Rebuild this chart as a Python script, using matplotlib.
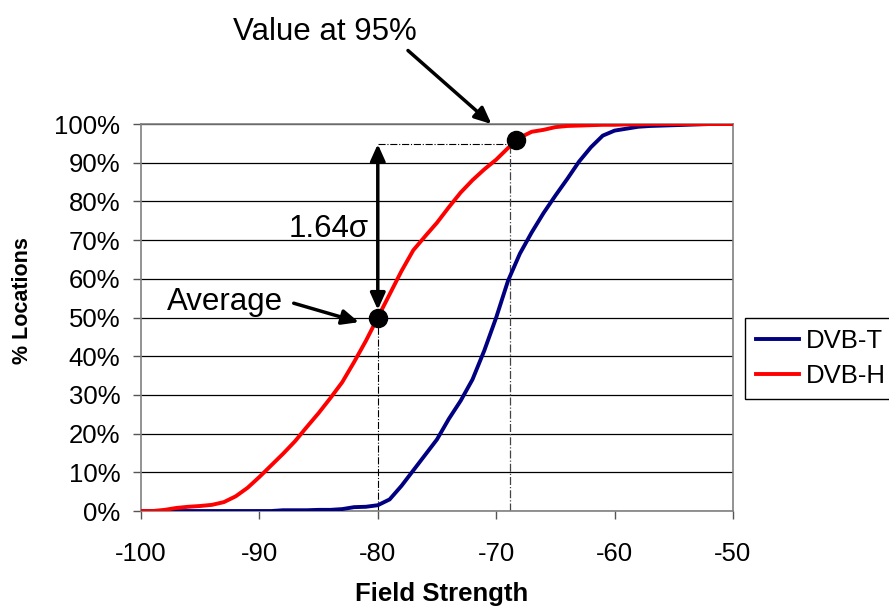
import matplotlib
matplotlib.use("Agg")
import matplotlib.pyplot as plt
from matplotlib.ticker import MultipleLocator, FuncFormatter

plt.rcParams['font.family'] = ['Liberation Sans', 'DejaVu Sans']
plt.rcParams['axes.unicode_minus'] = False

field_strength = list(range(-100, -49))
dvb_t = [0, 0, 0, 0, 0, 0, 0, 0, 0, 0, 0, 0,
         0.2, 0.2, 0.2, 0.3, 0.3, 0.5, 1.0, 1.1, 1.5, 3.0, 6.5, 10.5, 14.5, 18.5,
         23.8, 28.5, 34.0, 41.5, 50.0, 59.5, 66.5, 72.0, 77.0, 81.5, 85.8, 90.3,
         94.0, 97.0, 98.3, 98.8, 99.3, 99.5, 99.6, 99.7, 99.8, 99.9, 100, 100, 100]
dvb_h = [0, 0, 0.3, 0.8, 1.1, 1.3, 1.6, 2.3, 3.8, 6.0, 8.8, 11.8, 14.8, 18.0,
         21.7, 25.3, 29.2, 33.3, 38.5, 44.0, 50.0, 56.0, 62.0, 67.4, 71.0, 74.5,
         78.5, 82.3, 85.5, 88.3, 90.8, 93.8, 96.5, 98.0, 98.5, 99.2, 99.5, 99.6,
         99.7, 99.8, 99.8, 99.9, 99.9, 100, 100, 100, 100, 100, 100, 100, 100]

avg_x, avg_y = -80, 50
p95_x, p95_y = -68.3, 96
p95_level = 94.8
p95_line_x = -68.8

fig = plt.figure(figsize=(8.89, 6.08), dpi=100)
ax = fig.add_axes([0.1586, 0.1595, 0.6659, 0.6365])

ax.plot(field_strength, dvb_t, color='#000080', lw=2.8, label='DVB-T', zorder=3)
ax.plot(field_strength, dvb_h, color='#FF0000', lw=2.8, label='DVB-H', zorder=3)

ax.set_xlim(-100, -50)
ax.set_ylim(0, 100)
ax.xaxis.set_major_locator(MultipleLocator(10))
ax.yaxis.set_major_locator(MultipleLocator(10))
ax.yaxis.set_major_formatter(FuncFormatter(lambda v, p: f"{int(round(v))}%"))
ax.grid(axis='y', color='black', lw=0.9)
ax.set_axisbelow(True)
for s in ax.spines.values():
    s.set_color('#808080')
    s.set_linewidth(1.2)
ax.tick_params(axis='both', labelsize=18.5, color='#555555', length=6, width=1.0)
ax.tick_params(axis='y', pad=9)
ax.tick_params(axis='x', pad=16)

fig.text(442 / 889, 1 - 601 / 608, 'Field Strength', fontsize=18.5, fontweight='bold',
         ha='center', va='baseline')
fig.text(23 / 889, 1 - 301 / 608, '% Locations', fontsize=15.5, fontweight='bold',
         ha='center', va='center', rotation=90)

# dash-dot guide lines
ax.plot([avg_x, avg_x], [0, avg_y], color='black', lw=0.8, ls='-.', zorder=2)
ax.plot([p95_line_x, p95_line_x], [0, p95_level], color='#444444', lw=0.9, ls='-.', zorder=2)
ax.plot([avg_x, p95_line_x], [p95_level, p95_level], color='black', lw=0.8, ls='-.', zorder=2)

# dots
ax.plot([avg_x], [avg_y], 'o', color='black', ms=13, zorder=5)
ax.plot([p95_x], [p95_y], 'o', color='black', ms=13, zorder=5)

arrow_style = '-|>,head_length=1.0,head_width=0.45'

# double arrow
ax.annotate('', xy=(avg_x, 52), xytext=(avg_x, p95_level),
            arrowprops=dict(arrowstyle='<|-|>,head_length=1.0,head_width=0.45',
                            color='black', lw=2.5, shrinkA=0, shrinkB=0), zorder=6)
ax.text(-87.5, 70.8, '1.64σ', fontsize=22.5, ha='left', va='baseline')

# Average
ax.text(-97.8, 51.9, 'Average', fontsize=22.5, ha='left', va='baseline')
ax.annotate('', xy=(-81.6, 48.8), xytext=(-87.1, 53.7),
            arrowprops=dict(arrowstyle=arrow_style, color='black', lw=2.5,
                            shrinkA=0, shrinkB=0))

# Value at 95%
ax.text(-92.2, 121.6, 'Value at 95%', fontsize=22.5, ha='left', va='baseline', clip_on=False)
ax.annotate('', xy=(-70.4, 100), xytext=(-77.45, 119), annotation_clip=False,
            arrowprops=dict(arrowstyle=arrow_style, color='black', lw=2.5,
                            shrinkA=0, shrinkB=0))

leg = fig.legend(loc='upper left', bbox_to_anchor=(745 / 889, 1 - 318 / 608), fontsize=18.5,
                 frameon=True, fancybox=False, edgecolor='black', framealpha=1,
                 handlelength=1.7, borderpad=0.42, labelspacing=0.45, handletextpad=0.25,
                 borderaxespad=0)
leg.get_frame().set_linewidth(1.0)

fig.savefig('out.png', dpi=100)
